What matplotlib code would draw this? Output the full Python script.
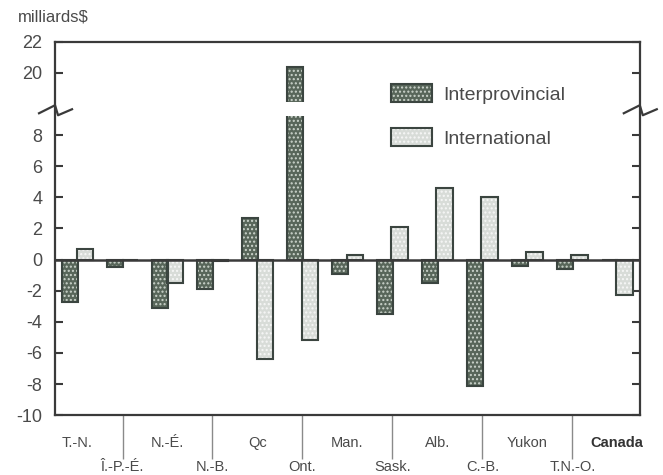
import numpy as np
import matplotlib
matplotlib.use("Agg")
import matplotlib.pyplot as plt

plt.rcParams["font.family"] = "Liberation Sans"

provinces = ["T.-N.", "Î.-P.-É.", "N.-É.", "N.-B.", "Qc", "Ont.", "Man.",
             "Sask.", "Alb.", "C.-B.", "Yukon", "T.N.-O.", "Canada"]
interprovincial = [-2.7, -0.5, -3.1, -1.9, 2.7, 20.4, -0.9, -3.5, -1.5, -8.1, -0.4, -0.6, 0.0]
international = [0.7, 0.0, -1.5, -0.1, -6.4, -5.2, 0.3, 2.1, 4.6, 4.0, 0.5, 0.3, -2.3]
y_ticks = [-10, -8, -6, -4, -2, 0, 2, 4, 6, 8, 20, 22]

# broken y axis: everything above the cut is pulled down by CUT_SHIFT
CUT_AT = 9.6
CUT_SHIFT = 8.0


def squash(v):
    v = np.asarray(v, dtype=float)
    return np.where(v > CUT_AT, v - CUT_SHIFT, v)


ink = "#3b4540"
text_col = "#4a4a4a"
series = [
    ("Interprovincial", interprovincial, -0.16, "#58665a", "#ccd4cc"),
    ("International", international, 0.16, "#d8dcd8", "#f7f7f7"),
]

fig = plt.figure(figsize=(6.63, 4.75), dpi=100)
ax = fig.add_axes([0.083, 0.126, 0.882, 0.786])

x = np.arange(len(provinces))
width = 0.36
handles = []
for name, vals, off, face, dots in series:
    h = squash(vals)
    fill = ax.bar(x + off, h, width, color=face, edgecolor=dots, hatch="....",
                  linewidth=0, zorder=2)
    edge = ax.bar(x + off, h, width, fill=False, edgecolor=ink, linewidth=1.5,
                  zorder=2.05)
    handles.append((fill[0], edge[0]))

# gap through the bars at the axis break
ax.axhspan(CUT_AT - 0.4, CUT_AT + 0.5, color="white", zorder=2.2, lw=0)
ax.axhline(0, color="#3a3a3a", lw=1.8, zorder=2.3)

ax.set_xlim(-0.5, len(provinces) - 0.5)
ax.set_ylim(-10, float(squash(22)))
ax.set_yticks(squash(y_ticks), [str(t) for t in y_ticks])
ax.tick_params(axis="y", direction="in", length=6, width=1.5, color="#3a3a3a",
               right=True, labelsize=13, labelcolor=text_col, pad=9)

even = x[::2]
odd = x[1::2]
ax.set_xticks(even, [provinces[i] for i in even])
ax.set_xticks(odd, [provinces[i] for i in odd], minor=True)
ax.tick_params(axis="x", which="major", length=0, pad=15, labelsize=10.5,
               labelcolor=text_col)
ax.tick_params(axis="x", which="minor", direction="out", length=32, width=1,
               color="#8a8a8a", pad=0, labelsize=10.5, labelcolor=text_col)
last = ax.get_xticklabels()[-1]
last.set_fontweight("bold")
last.set_color("#333333")

for s in ax.spines.values():
    s.set_color("#3a3a3a")
    s.set_linewidth(1.6)

# zigzag break marks on both y spines
bb = ax.get_position()
wpx = bb.width * fig.get_figwidth() * fig.dpi
hpx = bb.height * fig.get_figheight() * fig.dpi
yb = (CUT_AT - ax.get_ylim()[0]) / (ax.get_ylim()[1] - ax.get_ylim()[0])
zx = np.array([-16, 0, 3, 17]) / wpx
zy = yb + np.array([-3, 5, -5, 1]) / hpx
for x0 in (0, 1):
    ax.plot(x0 + zx, zy, color="#3a3a3a", lw=1.6, transform=ax.transAxes,
            clip_on=False, zorder=5)

leg = ax.legend(handles, [s[0] for s in series], loc="upper left",
                bbox_to_anchor=(0.545, 0.935), frameon=False, fontsize=14,
                handlelength=2.1, handleheight=1.1, labelspacing=1.25,
                handletextpad=0.55)
for t in leg.get_texts():
    t.set_color(text_col)

fig.text(0.027, 0.965, "milliards$", fontsize=12, color=text_col, va="center")

fig.savefig("out.png", dpi=100)
